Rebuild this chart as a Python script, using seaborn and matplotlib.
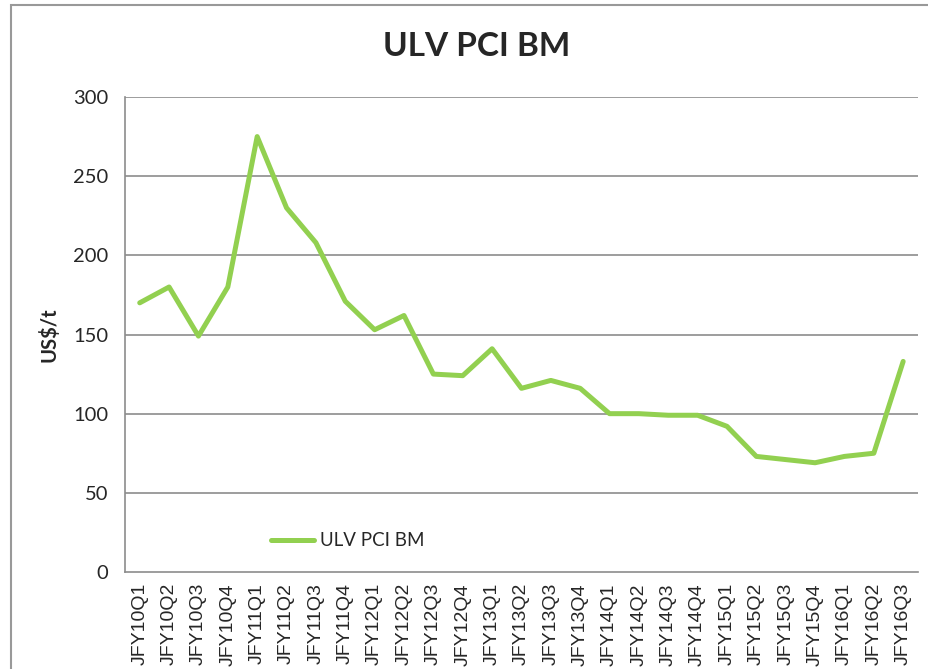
import numpy as np
import pandas as pd
import seaborn as sns
import matplotlib.pyplot as plt
from matplotlib.patches import Rectangle

quarters = [
    "JFY10Q1", "JFY10Q2", "JFY10Q3", "JFY10Q4",
    "JFY11Q1", "JFY11Q2", "JFY11Q3", "JFY11Q4",
    "JFY12Q1", "JFY12Q2", "JFY12Q3", "JFY12Q4",
    "JFY13Q1", "JFY13Q2", "JFY13Q3", "JFY13Q4",
    "JFY14Q1", "JFY14Q2", "JFY14Q3", "JFY14Q4",
    "JFY15Q1", "JFY15Q2", "JFY15Q3", "JFY15Q4",
    "JFY16Q1", "JFY16Q2", "JFY16Q3",
]
ulv_pci_bm = [
    170, 180, 149, 180,
    275, 230, 208, 171,
    153, 162, 125, 124,
    141, 116, 121, 116,
    100, 100, 99, 99,
    92, 73, 71, 69,
    73, 75, 133,
]
y_ticks = [0, 50, 100, 150, 200, 250, 300]

sns.set_style("white")
plt.rcParams["font.family"] = ["Lato", "DejaVu Sans"]

df = pd.DataFrame({"pos": np.arange(len(quarters)), "value": ulv_pci_bm})

fig = plt.figure(figsize=(9.29, 6.69), dpi=100)
ax = fig.add_axes([0.1346, 0.145, 0.8534, 0.710])

grid_col = "#8c8c8c"
sns.lineplot(
    data=df, x="pos", y="value", ax=ax,
    color="#92D050", linewidth=3.6, label="ULV PCI BM",
    solid_capstyle="round", solid_joinstyle="round", zorder=3,
)

ax.set_xlim(-0.5, len(quarters) - 0.5)
ax.set_ylim(0, 300)
ax.set_yticks(y_ticks)
ax.set_yticklabels([str(t) for t in y_ticks], fontsize=14.5)
for t in y_ticks[1:]:
    ax.axhline(t, color=grid_col, linewidth=1.2, zorder=1)

# category boundaries carry the tick marks, labels sit between them
ax.set_xticks(np.arange(-0.5, len(quarters)), minor=False)
ax.set_xticklabels([])
ax.set_xticks(np.arange(len(quarters)), minor=True)
ax.set_xticklabels(quarters, minor=True, rotation=90, fontsize=14,
                   family=["Liberation Sans", "DejaVu Sans"])
ax.tick_params(axis="x", which="major", length=6, width=1, color=grid_col, direction="out")
ax.tick_params(axis="x", which="minor", length=0, pad=8)
ax.tick_params(axis="y", length=6, width=1, color=grid_col, direction="out", pad=6)

for side in ["top", "right"]:
    ax.spines[side].set_visible(False)
for side in ["left", "bottom"]:
    ax.spines[side].set_color(grid_col)
    ax.spines[side].set_linewidth(1.2)

ax.set_xlabel("")
ax.set_ylabel("US$/t", fontsize=14.5, fontweight="bold", labelpad=10)
fig.text(0.513, 0.93, "ULV PCI BM", ha="center", va="center",
         fontsize=24, fontweight="bold")

ax.legend(loc="lower left", bbox_to_anchor=(0.163, 0.012), frameon=False,
          fontsize=13.5, handlelength=2.3, handletextpad=0.3)

# outer chart frame, cut off at the right and bottom
fig.patches.append(Rectangle((11 / 929, -0.1), 1.2, 1.1 - 5 / 669,
                             transform=fig.transFigure, fill=False,
                             edgecolor="#999999", linewidth=1.5))

fig.savefig("out.png", dpi=100)
